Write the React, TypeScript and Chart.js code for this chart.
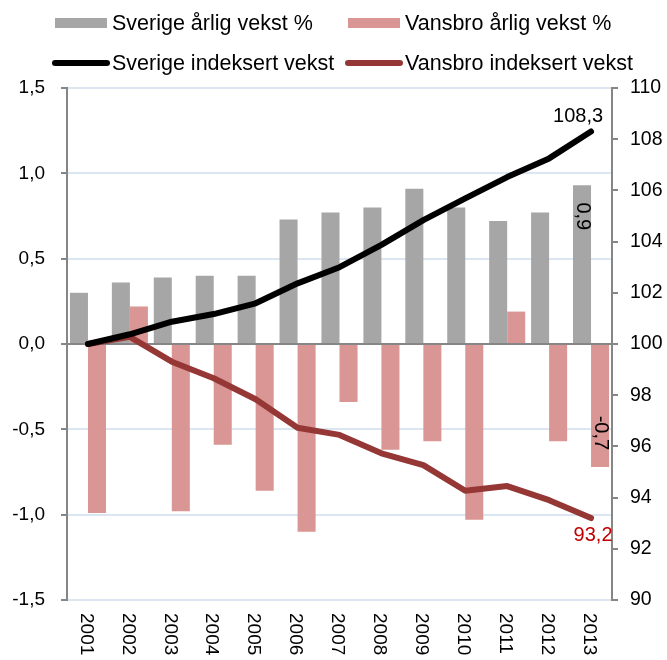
import React, { useEffect, useRef } from "react";
import { Chart, registerables } from "chart.js";

Chart.register(...registerables);

const years = ["2001", "2002", "2003", "2004", "2005", "2006", "2007", "2008", "2009", "2010", "2011", "2012", "2013"];
const sverigeArlig = [0.3, 0.36, 0.39, 0.4, 0.4, 0.73, 0.77, 0.8, 0.91, 0.8, 0.72, 0.77, 0.93];
const vansbroArlig = [-0.99, 0.22, -0.98, -0.59, -0.86, -1.1, -0.34, -0.62, -0.57, -1.03, 0.19, -0.57, -0.72];
const sverigeIndeks = [100, 100.38, 100.87, 101.17, 101.59, 102.37, 103.0, 103.87, 104.84, 105.69, 106.52, 107.25, 108.3];
const vansbroIndeks = [100, 100.28, 99.31, 98.66, 97.84, 96.73, 96.45, 95.73, 95.27, 94.27, 94.45, 93.9, 93.2];
const leftTicks = [-1.5, -1.0, -0.5, 0, 0.5, 1.0, 1.5];
const rightTicks = [90, 92, 94, 96, 98, 100, 102, 104, 106, 108, 110];

const FONT = "'Liberation Sans', Arial, sans-serif";
const GREY = "#a6a6a6";
const PINK = "#d99694";
const DARKRED = "#953735";
const AXIS = "#868686";
const GRID = "#dce6f2";

const fmt = (v: number, d: number) => v.toFixed(d).replace(".", ",");

export default function App() {
  const ref = useRef<HTMLCanvasElement | null>(null);

  useEffect(() => {
    if (!ref.current) return;

    const overlay = {
      id: "overlay",
      afterDatasetDraw(chart: any, args: any) {
        if (args.index !== 0) return;
        const ctx = chart.ctx;
        const y = chart.scales.y.getPixelForValue(0);
        ctx.save();
        ctx.strokeStyle = AXIS;
        ctx.lineWidth = 2;
        ctx.beginPath();
        ctx.moveTo(chart.chartArea.left, y);
        ctx.lineTo(chart.chartArea.right, y);
        ctx.stroke();
        ctx.restore();
      },
      afterDraw(chart: any) {
        const ctx = chart.ctx;
        ctx.save();
        ctx.font = `19px ${FONT}`;
        ctx.fillStyle = "#000";
        // x labels rotated clockwise
        const xs = chart.scales.x;
        years.forEach((lab, i) => {
          const x = xs.getPixelForTick(i);
          ctx.save();
          ctx.translate(x - 2, 613);
          ctx.rotate(Math.PI / 2);
          ctx.textAlign = "left";
          ctx.textBaseline = "middle";
          ctx.fillText(lab, 0, 0);
          ctx.restore();
        });

        const last = years.length - 1;
        // data labels
        ctx.font = `20px ${FONT}`;
        const sIdx = chart.getDatasetMeta(2).data[last];
        const vIdx = chart.getDatasetMeta(3).data[last];
        ctx.textAlign = "center";
        ctx.textBaseline = "middle";
        ctx.fillStyle = "#000";
        ctx.fillText(fmt(sverigeIndeks[last], 1), sIdx.x - 13, sIdx.y - 15);
        ctx.fillStyle = "#c00000";
        ctx.fillText(fmt(vansbroIndeks[last], 1), vIdx.x + 2, vIdx.y + 17);

        const gBar = chart.getDatasetMeta(0).data[last];
        const pBar = chart.getDatasetMeta(1).data[last];
        ctx.fillStyle = "#000";
        const rot = (txt: string, x: number, y: number) => {
          ctx.save();
          ctx.translate(x, y);
          ctx.rotate(Math.PI / 2);
          ctx.textAlign = "center";
          ctx.textBaseline = "middle";
          ctx.fillText(txt, 0, 0);
          ctx.restore();
        };
        rot(fmt(sverigeArlig[last], 1), gBar.x, gBar.y + 31);
        rot(fmt(vansbroArlig[last], 1), pBar.x, pBar.y - 34);

        // legend
        ctx.font = `21.5px ${FONT}`;
        const rows = [
          { y: 23, items: [
            { type: "box", color: GREY, x: 55, label: "Sverige årlig vekst %" },
            { type: "box", color: PINK, x: 348, label: "Vansbro årlig vekst %" },
          ] },
          { y: 63, items: [
            { type: "line", color: "#000", x: 55, label: "Sverige indeksert vekst" },
            { type: "line", color: DARKRED, x: 348, label: "Vansbro indeksert vekst" },
          ] },
        ];
        ctx.textAlign = "left";
        ctx.textBaseline = "middle";
        rows.forEach((r) => {
          r.items.forEach((it) => {
            if (it.type === "box") {
              ctx.fillStyle = it.color;
              ctx.fillRect(it.x, r.y - 5, 52, 10);
            } else {
              ctx.strokeStyle = it.color;
              ctx.lineWidth = 6;
              ctx.lineCap = "round";
              ctx.beginPath();
              ctx.moveTo(it.x, r.y);
              ctx.lineTo(it.x + 52, r.y);
              ctx.stroke();
            }
            ctx.fillStyle = "#000";
            ctx.fillText(it.label, it.x + 57, r.y + 1);
          });
        });
        ctx.restore();
      },
    };

    const chart = new Chart(ref.current, {
      type: "bar",
      data: {
        labels: years,
        datasets: [
          {
            type: "bar",
            label: "Sverige årlig vekst %",
            data: sverigeArlig,
            backgroundColor: GREY,
            yAxisID: "y",
            order: 1,
            categoryPercentage: 0.86,
            barPercentage: 1.0,
          },
          {
            type: "bar",
            label: "Vansbro årlig vekst %",
            data: vansbroArlig,
            backgroundColor: PINK,
            yAxisID: "y",
            order: 1,
            categoryPercentage: 0.86,
            barPercentage: 1.0,
          },
          {
            type: "line",
            label: "Sverige indeksert vekst",
            data: sverigeIndeks,
            borderColor: "#000",
            backgroundColor: "#000",
            borderWidth: 6,
            pointRadius: 0,
            tension: 0,
            borderCapStyle: "round",
            borderJoinStyle: "round",
            yAxisID: "y1",
            order: 0,
          },
          {
            type: "line",
            label: "Vansbro indeksert vekst",
            data: vansbroIndeks,
            borderColor: DARKRED,
            backgroundColor: DARKRED,
            borderWidth: 6,
            pointRadius: 0,
            tension: 0,
            borderCapStyle: "round",
            borderJoinStyle: "round",
            yAxisID: "y1",
            order: 0,
          },
        ] as any,
      },
      options: {
        animation: false,
        responsive: true,
        maintainAspectRatio: false,
        devicePixelRatio: 1,
        layout: { padding: { top: 88, left: 0, right: 0, bottom: 0 } },
        plugins: { legend: { display: false }, tooltip: { enabled: false } },
        scales: {
          x: {
            type: "category",
            offset: true,
            grid: { display: false },
            border: { display: false },
            ticks: { display: false },
            afterFit: (s: any) => { s.height = 60; },
          },
          y: {
            position: "left",
            min: -1.5,
            max: 1.5,
            afterBuildTicks: (s: any) => { s.ticks = leftTicks.map((v) => ({ value: v })); },
            ticks: {
              color: "#000",
              font: { family: FONT, size: 19 },
              padding: 16,
              callback: (v: any) => fmt(Number(v), 1),
            },
            grid: {
              color: (c: any) => (c.tick && c.tick.value === 0 ? AXIS : GRID),
              lineWidth: 2,
              tickColor: AXIS,
              tickLength: 6,
              drawTicks: true,
            },
            border: { color: AXIS, width: 2 },
            afterFit: (s: any) => { s.width = 67; },
          },
          y1: {
            position: "right",
            min: 90,
            max: 110,
            afterBuildTicks: (s: any) => { s.ticks = rightTicks.map((v) => ({ value: v })); },
            ticks: {
              color: "#000",
              font: { family: FONT, size: 19.5 },
              padding: 12,
              callback: (v: any) => String(v),
            },
            grid: {
              drawOnChartArea: false,
              tickColor: AXIS,
              tickLength: 6,
              lineWidth: 2,
            },
            border: { color: AXIS, width: 2 },
            afterFit: (s: any) => { s.width = 55; },
          },
        },
      } as any,
      plugins: [overlay],
    });

    return () => chart.destroy();
  }, []);

  return (
    <div style={{ position: "fixed", left: 0, top: 0, width: 667, height: 660, background: "#fff" }}>
      <canvas ref={ref} />
    </div>
  );
}
